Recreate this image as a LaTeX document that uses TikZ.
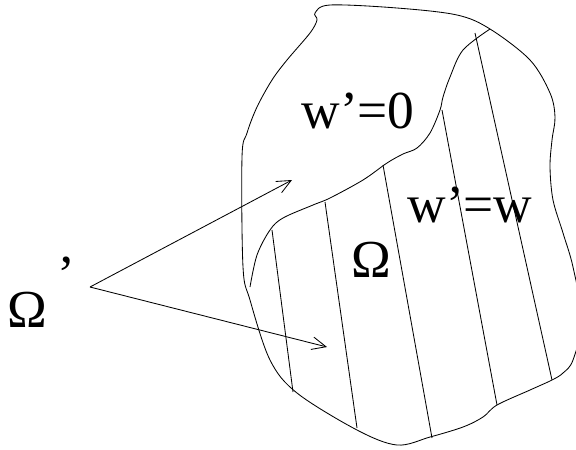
\documentclass[tikz,border=0pt]{standalone}
\usepackage{fontspec}
\setmainfont{Liberation Serif}
\usetikzlibrary{arrows.meta}
\tikzset{
  label text/.style={font=\fontsize{38}{45}\selectfont, inner sep=0pt, anchor=base west},
  pointer/.style={-{Straight Barb[length=10pt,width=9pt]}},
}
\begin{document}
\begin{tikzpicture}[x=0.025cm, y=-0.025cm, line width=0.6pt]
    \useasboundingbox (0,0) rectangle (576,449);
    \clip (0,0) rectangle (576,449);
    % outer boundary
    \draw plot[smooth cycle, tension=0.55] coordinates {
        (315,13) (330,5) (397,8) (457,15) (490,29) (530,60) (550,93) (555,117)
        (552,140) (550,167) (553,200) (563,233) (573,267) (582,320) (573,360)
        (563,373) (552,380) (530,390) (497,405) (483,417) (463,427) (430,437)
        (397,445) (357,430) (297,393) (270,360) (250,300) (243,267) (242,157)
        (247,133) (257,107) (272,80) (287,60) (310,33) (317,20)};
    % inner boundary
    \draw plot[smooth, tension=0.55] coordinates {
        (250,287) (257,255) (270,230) (283,218) (313,205) (330,198) (363,180)
        (387,163) (403,154) (417,148) (430,133) (440,110) (443,97) (450,77)
        (463,50) (490,29)};
    % hatching
    \foreach \a/\b in {{(272,230)}/{(293,392)}, {(325,202)}/{(357,428)},
                       {(383,165)}/{(432,438)}, {(442,110)}/{(497,405)},
                       {(475,33)}/{(552,380)}}
        \draw \a -- \b;
    \node[label text] (zero) at (301,128) {w'=0};
    \node[label text] (same) at (407,222) {w'=w};
    \node[label text] (omega) at (351,277) {Ω};
    \node[label text] (omegaprime) at (7,327) {Ω\hspace{0.2em}\raisebox{0.65em}{'}};
    \coordinate (fork) at (90,287);
    \coordinate (upper tip) at (292,180);
    \coordinate (lower tip) at (327,347);
    \draw[pointer] (fork) -- (upper tip);
    \draw[pointer] (fork) -- (lower tip);
\end{tikzpicture}
\end{document}
